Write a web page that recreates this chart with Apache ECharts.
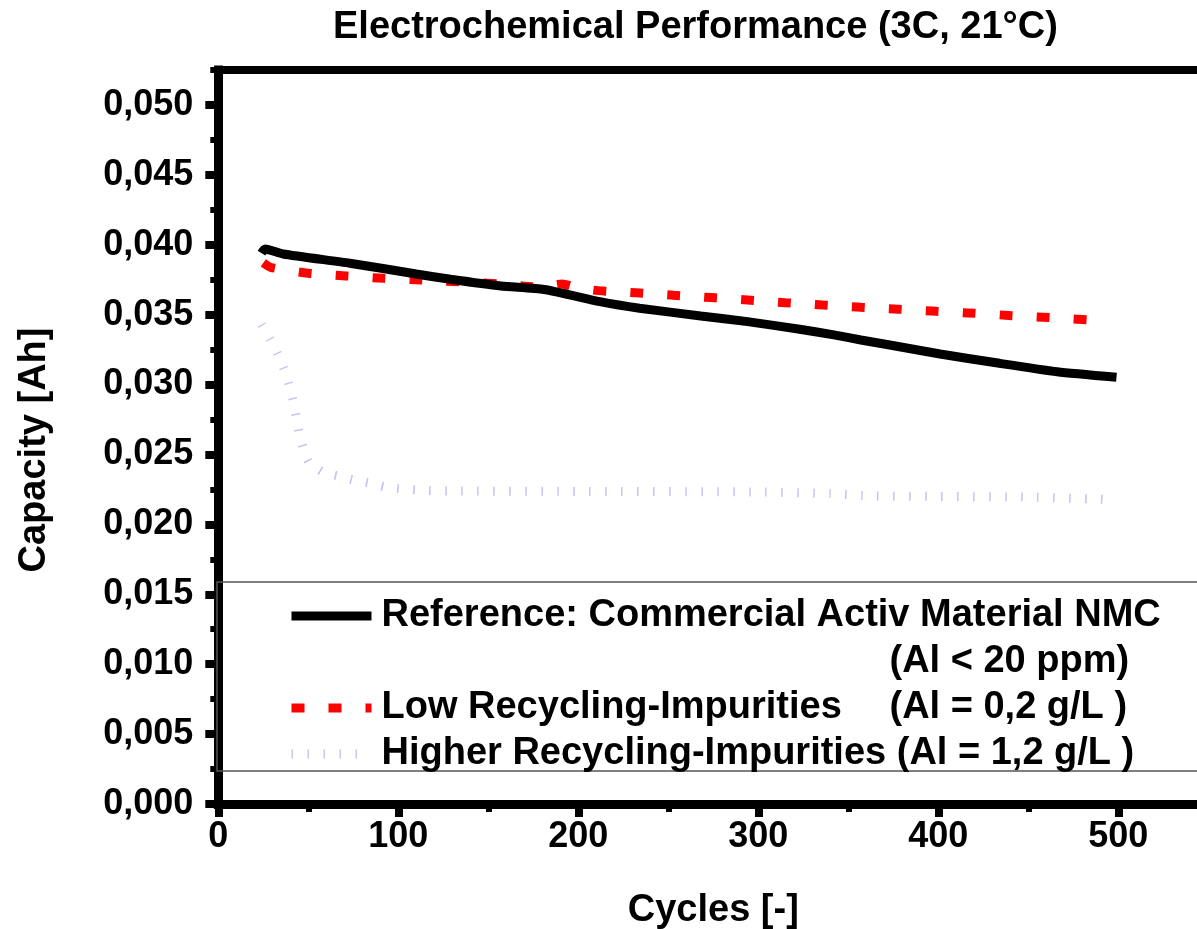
<!DOCTYPE html>
<html>
<head>
<meta charset="utf-8">
<script src="https://cdn.jsdelivr.net/npm/echarts@6/dist/echarts.min.js"></script>
<style>
  html, body { margin: 0; padding: 0; background: #fff; }
  #chart { width: 1197px; height: 929px; }
</style>
</head>
<body>
<div id="chart"></div>
<script>
// ---- Data ----
const seriesNames = [
  'Reference: Commercial Activ Material NMC',
  'Low Recycling-Impurities',
  'Higher Recycling-Impurities'
];
const legendNotes = ['(Al < 20 ppm)', '(Al = 0,2 g/L )', '(Al = 1,2 g/L )'];

const refCycles   = [24, 26, 36, 73, 110, 129, 157, 181, 212, 234, 268, 294, 323, 342, 357, 373, 401, 434, 466, 499];
const refCapacity = [0.0394, 0.0397, 0.03934, 0.03868, 0.03791, 0.03753, 0.03705, 0.0368, 0.03593, 0.03546, 0.03491, 0.0345, 0.03396, 0.03355, 0.03319, 0.03283, 0.03219, 0.03152, 0.03092, 0.03052];

const lowCycles   = [25, 29, 50, 71, 92, 113, 157, 175, 185, 191, 200, 211, 232, 253, 274, 294, 315, 336, 357, 378, 399, 420, 441, 462, 483, 492];
const lowCapacity = [0.0387, 0.03839, 0.03796, 0.03777, 0.0376, 0.03748, 0.0372, 0.037, 0.0371, 0.0372, 0.0369, 0.03672, 0.03657, 0.03639, 0.03622, 0.03605, 0.03586, 0.03569, 0.03553, 0.03539, 0.03524, 0.0351, 0.03493, 0.03479, 0.03464, 0.0346];

const highCycles   = [24, 29, 33, 36.5, 39.3, 41.5, 43.2, 44.8, 47.1, 50.4, 58.2, 66.5, 74.8, 83.7, 92.6, 110, 128, 200, 300, 340, 360, 400, 450, 490, 496];
const highCapacity = [0.0343, 0.0332, 0.0322, 0.0311, 0.0300, 0.0289, 0.02775, 0.0266, 0.02554, 0.02446, 0.02375, 0.02346, 0.02318, 0.02296, 0.02268, 0.02246, 0.02239, 0.02236, 0.02232, 0.0222, 0.02205, 0.022, 0.02195, 0.0218, 0.02175];

const xTickValues = [0, 100, 200, 300, 400, 500];
const yTickValues = [0, 0.005, 0.010, 0.015, 0.020, 0.025, 0.030, 0.035, 0.040, 0.045, 0.050];

// ---- helpers ----
function pairs(xs, ys) { return xs.map((x, i) => [x, ys[i]]); }
const FONT = '"Liberation Sans", Arial, sans-serif';
const boldText = (size) => ({ fontFamily: FONT, fontWeight: 'bold', fontSize: size, color: '#000' });

const chart = echarts.init(document.getElementById('chart'), null, { renderer: 'canvas' });

const option = {
  backgroundColor: '#ffffff',
  animation: false,
  title: {
    text: 'Electrochemical Performance (3C, 21°C)',
    left: 333,
    top: 7,
    padding: 0,
    textStyle: Object.assign(boldText(38), { lineHeight: 42 })
  },
  grid: { left: 218.3, top: 70, right: -11.3, bottom: 125, containLabel: false, outerBoundsMode: 'none' },
  graphic: [{
    type: 'rect',
    shape: { x: 217, y: 582, width: 1010, height: 189 },
    style: { fill: 'none', stroke: '#555555', lineWidth: 1.5 },
    silent: true,
    z: 1
  }],
  legend: {
    orient: 'vertical',
    left: 287,
    top: 547,
    padding: 0,
    itemGap: 0,
    itemWidth: 80,
    itemHeight: 14,
    selectedMode: false,
    lineStyle: { width: 9 },
    itemStyle: { opacity: 0 },
    textStyle: {
      fontFamily: FONT, fontWeight: 'bold', fontSize: 38, color: '#000', lineHeight: 46,
      padding: [0, 0, 0, 5],
      rich: {
        a:  { fontFamily: FONT, fontWeight: 'bold', fontSize: 38, color: '#000', lineHeight: 46 },
        a2: { fontFamily: FONT, fontWeight: 'bold', fontSize: 38, color: '#000', lineHeight: 46, width: 508 },
        sp: { fontFamily: FONT, fontWeight: 'bold', fontSize: 38, color: '#000', lineHeight: 46, width: 508 },
        b:  { fontFamily: FONT, fontWeight: 'bold', fontSize: 38, color: '#000', lineHeight: 46 }
      }
    },
    data: [
      { name: seriesNames[0], textStyle: { padding: [46, 0, 0, 5] } },
      { name: seriesNames[1], textStyle: { padding: [0, 0, 0, 5] } },
      { name: seriesNames[2], textStyle: { padding: [0, 0, 0, 5] } }
    ],
    formatter: function (name) {
      const i = seriesNames.indexOf(name);
      if (i === 0) return '{a|' + name + '}\n{sp| }{b|' + legendNotes[0] + '}';
      if (i === 1) return '{a2|' + name + '}{b|' + legendNotes[1] + '}';
      return '{a|' + name + ' ' + legendNotes[2] + '}';
    }
  },
  xAxis: [
    {
      type: 'value', min: 0, max: 550, interval: 100, position: 'bottom',
      axisLine: { onZero: false, lineStyle: { color: '#000', width: 9, cap: 'square' } },
      axisTick: { inside: false, length: 13, lineStyle: { color: '#000', width: 8 }, customValues: xTickValues },
      axisLabel: Object.assign(boldText(36), { margin: 15, customValues: xTickValues }),
      splitLine: { show: false },
      name: 'Cycles [-]', nameLocation: 'middle', nameGap: 88,
      nameTextStyle: boldText(38)
    },
    {
      type: 'value', min: 0, max: 550, interval: 50, position: 'bottom',
      axisLine: { show: false, onZero: false },
      axisTick: { inside: false, length: 8, lineStyle: { color: '#000', width: 6 } },
      axisLabel: { show: false }, splitLine: { show: false }
    },
    {
      type: 'value', min: 0, max: 550, interval: 100, position: 'top',
      axisLine: { onZero: false, lineStyle: { color: '#000', width: 8, cap: 'square' } },
      axisTick: { show: false }, axisLabel: { show: false }, splitLine: { show: false }
    }
  ],
  yAxis: [
    {
      type: 'value', min: 0, max: 0.0525, interval: 0.005, position: 'left',
      axisLine: { onZero: false, lineStyle: { color: '#000', width: 9, cap: 'square' } },
      axisTick: { inside: false, length: 13, lineStyle: { color: '#000', width: 8 }, customValues: yTickValues },
      axisLabel: Object.assign(boldText(36), {
        margin: 25,
        customValues: yTickValues,
        formatter: (v) => v.toFixed(3).replace('.', ',')
      }),
      splitLine: { show: false },
      name: 'Capacity [Ah]', nameLocation: 'middle', nameGap: 165,
      nameTextStyle: Object.assign(boldText(38), { padding: [0, 26, 0, 0] })
    },
    {
      type: 'value', min: 0, max: 0.0525, interval: 0.0025, position: 'left',
      axisLine: { show: false, onZero: false },
      axisTick: { inside: false, length: 8, lineStyle: { color: '#000', width: 6 } },
      axisLabel: { show: false }, splitLine: { show: false }
    }
  ],
  series: [
    {
      name: seriesNames[0], type: 'line', xAxisIndex: 0, yAxisIndex: 0,
      data: pairs(refCycles, refCapacity),
      showSymbol: false, symbol: 'none', smooth: 0.2, z: 4,
      lineStyle: { color: '#000000', width: 9, type: 'solid' },
      itemStyle: { color: '#000000' }
    },
    {
      name: seriesNames[1], type: 'line', xAxisIndex: 0, yAxisIndex: 0,
      data: pairs(lowCycles, lowCapacity),
      showSymbol: false, symbol: 'none', smooth: 0.2, z: 3,
      lineStyle: { color: '#ff0000', width: 9, type: [13, 24], cap: 'butt' },
      itemStyle: { color: '#ff0000' }
    },
    {
      name: seriesNames[2], type: 'line', xAxisIndex: 0, yAxisIndex: 0,
      data: pairs(highCycles, highCapacity),
      showSymbol: false, symbol: 'none', smooth: 0.2, z: 2,
      lineStyle: { color: '#c4c4f0', width: 9, type: [1.5, 14.5], cap: 'butt' },
      itemStyle: { color: '#c4c4f0' }
    }
  ]
};

chart.setOption(option);
</script>
</body>
</html>
